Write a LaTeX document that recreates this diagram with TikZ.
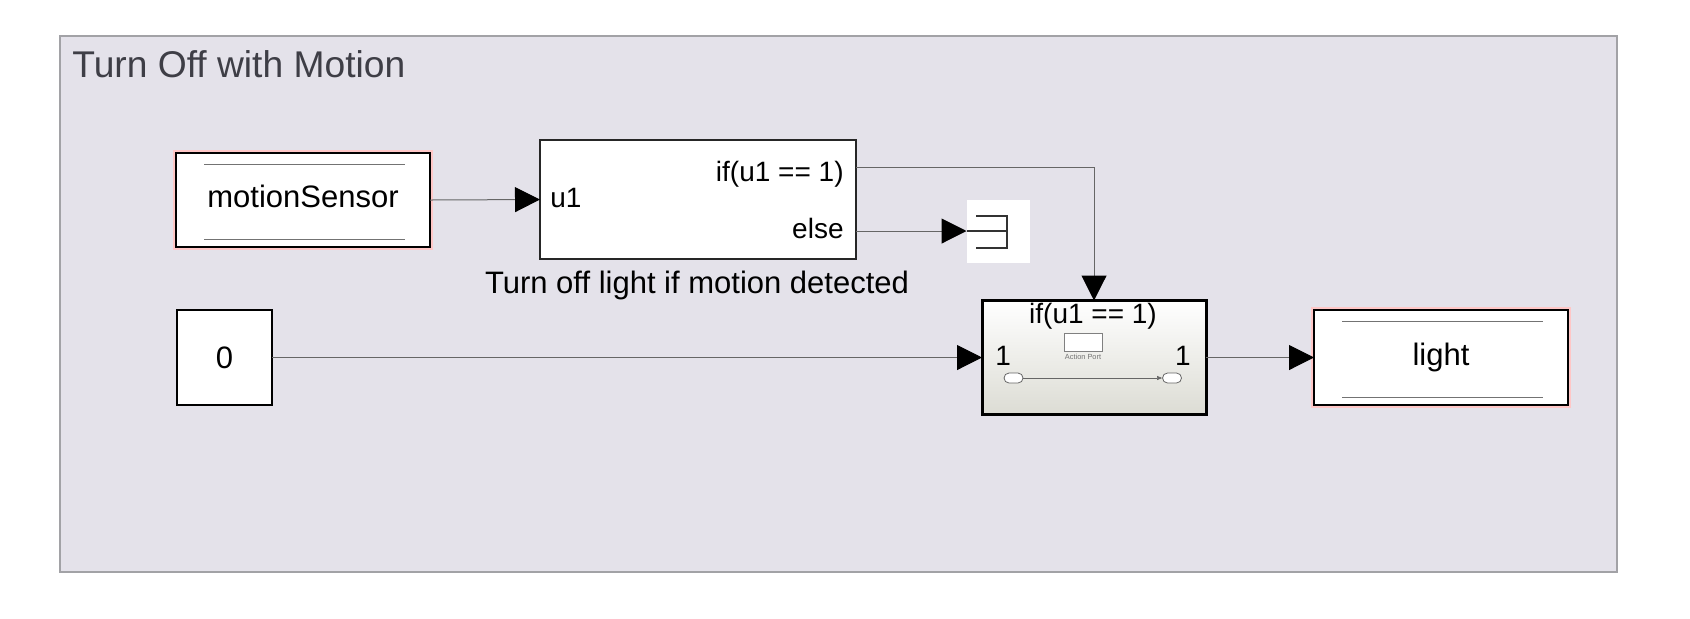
\documentclass[tikz,border=0pt]{standalone}
\usepackage{fontspec}
\setmainfont{Liberation Sans}
\usetikzlibrary{arrows.meta}
\usetikzlibrary{calc}
\usepackage{xcolor}
\definecolor{areafill}{HTML}{E4E2EA}
\definecolor{arealine}{HTML}{A2A2A6}
\definecolor{titlegrey}{HTML}{3E3E46}
\definecolor{actgrey}{HTML}{DCDCD4}

\begin{document}
\begin{tikzpicture}[
x=0.5pt, y=-0.5pt,
blk/.style = {draw=black, line width=0.8pt, fill=white,
            inner sep=0pt, outer sep=0pt},
glow/.style = {preaction={draw=red!22, line width=3.4pt}},
wire/.style = {draw=black!60, line width=0.5pt},
sig/.style = {wire, -{Triangle[length=12.5pt,width=12.5pt,black]}},
lbl/.style = {font=\fontsize{15.5}{18}\selectfont, inner sep=0pt},
port/.style = {font=\fontsize{14}{16}\selectfont, inner sep=0pt},
hline/.style = {draw=black!55, line width=0.5pt}
                ]
    \useasboundingbox (0,0) rectangle (1690,618);
    % subsystem area
    \node[draw=arealine, fill=areafill, line width=0.6pt, minimum width=778.5pt,
          minimum height=268pt, inner sep=0pt] (area) at (838.5,304) {};
    \node[anchor=base west, inner sep=0pt, text=titlegrey,
          font=\fontsize{18.6}{22}\selectfont] (title) at (72,77) {Turn Off with Motion};

    % inport / outport blocks
    \node[blk, glow, minimum width=127pt, minimum height=47pt, lbl, text depth=4pt] (ms) at (303,200) {motionSensor};
    \node[blk, glow, minimum width=127pt, minimum height=47.5pt, lbl] (light) at (1441,357.5) {light};
    \foreach \n in {ms, light}{
        \draw[hline] ($(\n.north west)+(28,11)$) -- ($(\n.north east)+(-25,11)$);
        \draw[hline] ($(\n.south west)+(28,-8)$) -- ($(\n.south east)+(-25,-8)$);
    }
    \node[blk, minimum width=47.5pt, minimum height=47.5pt, lbl] (zero) at (224.5,357.5) {0};

    % if block
    \node[blk, draw=black!85, minimum width=158pt, minimum height=59.5pt] (ifblk) at (698,199.5) {};
    \node[port, anchor=base west] (u1) at (550,207) {u1};
    \node[port, anchor=base east] (iftxt) at (844,181) {if(u1 == 1)};
    \node[port, anchor=base east] (elsetxt) at (844,238) {else};
    \coordinate (ifout) at (856,167);
    \coordinate (elseout) at (856,231);
    \node[lbl, anchor=base] (caption) at (697,293) {Turn off light if motion detected};

    % terminator
    \node[fill=white, minimum size=31.5pt, inner sep=0pt, outer sep=0pt] (term) at (998,231) {};
    \draw[black!80, line width=0.6pt] ($(term.center)+(-22,-15)$) -| ($(term.center)+(9,17)$) -- ++(-31,0);
    \draw[black!80, line width=0.6pt] (term.west) -- ($(term.center)+(9,0)$);

    % action subsystem
    \node[draw=black, line width=1.5pt, top color=white, bottom color=actgrey,
          minimum width=112pt, minimum height=57pt, inner sep=0pt, outer sep=0pt] (act) at (1094,357.5) {};
    \node[port, anchor=base] (acttxt) at (1093,323) {if(u1 == 1)};
    \node[port, anchor=base west] (actin) at (995,365) {1};
    \node[port, anchor=base east] (actout) at (1191,365) {1};
    \node[draw=black!50, fill=white, line width=0.4pt, minimum width=19pt, minimum height=9pt,
          inner sep=0pt] (aport) at (1083,342) {};
    \node[text=black!55, inner sep=0pt, font=\fontsize{3.7}{4}\selectfont] (aptxt) at (1083,357) {Action Port};
    \foreach \x/\e in {1013.5/inl, 1172/outl}
        \node[draw=black!60, fill=white, rounded corners=2.5pt, minimum width=9.5pt,
              minimum height=5pt, inner sep=0pt, line width=0.4pt] (\e) at (\x,378) {};
    \draw[black!60, line width=0.3pt, -{Triangle[length=2.5pt,width=2pt]}] (inl) -- (outl);

    % signals
    \draw[sig] (ms.east) -- (ifblk.west);
    \draw[sig] (ifout) -| (act.north);
    \draw[sig] (elseout) -- (term.west);
    \draw[sig] (zero.east) -- (act.west);
    \draw[sig] (act.east) -- (light.west);
\end{tikzpicture}
\end{document}
